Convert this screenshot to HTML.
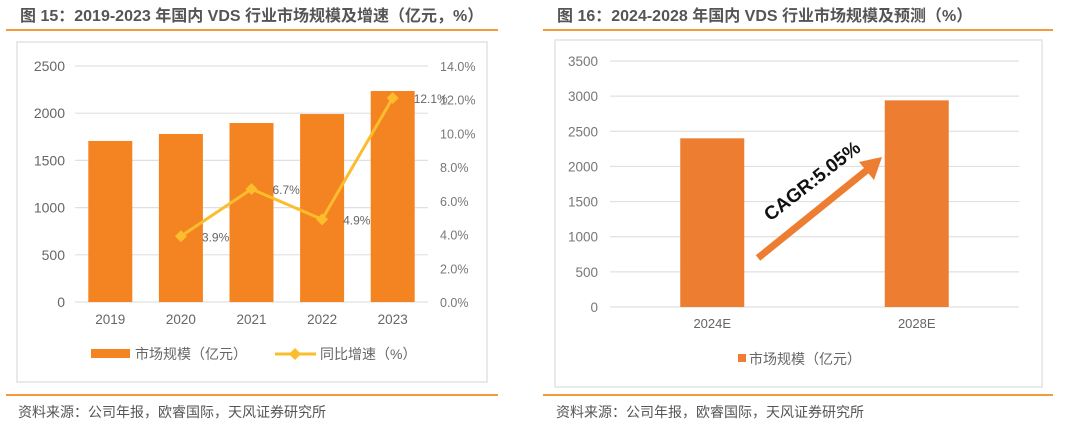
<!DOCTYPE html>
<html><head><meta charset="utf-8"><style>
body{margin:0;width:1080px;height:422px;background:#fff;overflow:hidden;font-family:"Liberation Sans","Noto Sans CJK SC",sans-serif}
svg{display:block}
</style></head><body>
<svg width="1080" height="422">
</svg>
<script>
const leftCats=["2019","2020","2021","2022","2023"];
const leftSize=[1706,1780,1896,1991,2235];
const leftGrowth=[null,3.9,6.7,4.9,12.1];
const leftGrowthLabels=["","3.9%","6.7%","4.9%","12.1%"];
const leftTicks=[0,500,1000,1500,2000,2500];
const rightTicks=["0.0%","2.0%","4.0%","6.0%","8.0%","10.0%","12.0%","14.0%"];
const r2Cats=["2024E","2028E"];
const r2Size=[2400,2940];
const r2Ticks=[0,500,1000,1500,2000,2500,3000,3500];
const NS="http://www.w3.org/2000/svg";
function mk(p,t,a,txt){const e=document.createElementNS(NS,t);for(const k in a)e.setAttribute(k,a[k]);if(txt!=null)e.textContent=txt;p.appendChild(e);return e;}
const svg=document.querySelector('svg');
const F='"Liberation Sans","Noto Sans CJK SC",sans-serif';
function panel(x0,x1,fx0,fx1,fy0,fy1,title,nm){
 let e;
 e=mk(svg,'text',{x:x0+14,y:21,'font-size':16,'font-weight':'bold',fill:'#555','font-family':F},title);
 
 e=mk(svg,'rect',{x:x0,y:29,width:x1-x0,height:2,fill:'#f39a3b'});
 
 e=mk(svg,'rect',{x:fx0,y:fy0,width:fx1-fx0,height:fy1-fy0,fill:'#fff',stroke:'#e3e3e3','stroke-width':1.5});
 
 e=mk(svg,'rect',{x:x0,y:394,width:x1-x0,height:2,fill:'#f39a3b'});
 
 e=mk(svg,'text',{x:fx0+1,y:417,'font-size':14,fill:'#555','font-family':F},'资料来源：公司年报，欧睿国际，天风证券研究所');
 
}
panel(6,498,17,487,42,382,'图 15：2019-2023 年国内 VDS 行业市场规模及增速（亿元，%）','left-chart');
panel(543,1053,555,1042,40,387,'图 16：2024-2028 年国内 VDS 行业市场规模及预测（%）','right-chart');
(function(){
 const px0=75,px1=428,y0=302,ytop=66;
 const yL=v=>y0-(v/2500)*(y0-ytop);
 const yR=v=>y0-(v/14)*(y0-ytop);
 const bw=(px1-px0)/leftCats.length;
 const xc=i=>px0+bw*(i+0.5);
 leftTicks.forEach(t=>{let e=mk(svg,'line',{x1:px0,x2:px1,y1:yL(t),y2:yL(t),stroke:'#e0e0e0','stroke-width':1.2});
  
  e=mk(svg,'text',{x:65,y:yL(t)+5,'text-anchor':'end','font-size':14,fill:'#666','font-family':F},t);
  });
 rightTicks.forEach((t,i)=>{const e=mk(svg,'text',{x:440,y:yR(i*2)+5,'font-size':12.5,fill:'#777','font-family':F},t);
  });
 leftCats.forEach((c,i)=>{let e=mk(svg,'rect',{x:xc(i)-22,y:yL(leftSize[i]),width:44,height:y0-yL(leftSize[i]),fill:'#f48421'});
  
  e=mk(svg,'text',{x:xc(i),y:324,'text-anchor':'middle','font-size':13.5,fill:'#666','font-family':F},c);
  });
 const pts=[];leftGrowth.forEach((g,i)=>{if(g!=null)pts.push([xc(i),yR(g),i]);});
 let e=mk(svg,'polyline',{points:pts.map(p=>p[0]+','+p[1]).join(' '),fill:'none',stroke:'#fbbc2d','stroke-width':3});
 
 pts.forEach(p=>{let d=mk(svg,'path',{d:`M${p[0]},${p[1]-6}l6,6l-6,6l-6,-6z`,fill:'#fbbc2d'});
  
  d=mk(svg,'text',{x:p[0]+21,y:p[1]+5,'font-size':12,fill:'#666','font-family':F},leftGrowthLabels[p[2]]);
  });
 e=mk(svg,'rect',{x:91,y:349,width:39,height:9,fill:'#f48421'});
 e=mk(svg,'text',{x:135,y:359,'font-size':14,fill:'#666','font-family':F},'市场规模（亿元）');
 e=mk(svg,'line',{x1:275,x2:316,y1:354,y2:354,stroke:'#fbbc2d','stroke-width':3});
 e=mk(svg,'path',{d:'M295,348l6,6l-6,6l-6,-6z',fill:'#fbbc2d'});
 e=mk(svg,'text',{x:320,y:359,'font-size':14,fill:'#666','font-family':F},'同比增速（%）');
})();
(function(){
 const px0=610,px1=1019,y0=307,ytop=61;
 const y=v=>y0-(v/3500)*(y0-ytop);
 const bw=(px1-px0)/r2Cats.length;const xc=i=>px0+bw*(i+0.5);
 r2Ticks.forEach(t=>{let e=mk(svg,'line',{x1:px0,x2:px1,y1:y(t),y2:y(t),stroke:'#e0e0e0','stroke-width':1.2});
  
  e=mk(svg,'text',{x:598,y:y(t)+5,'text-anchor':'end','font-size':13.5,fill:'#777','font-family':F},t);
  });
 r2Cats.forEach((c,i)=>{let e=mk(svg,'rect',{x:xc(i)-32,y:y(r2Size[i]),width:64,height:y0-y(r2Size[i]),fill:'#ed7d31'});
  
  e=mk(svg,'text',{x:xc(i),y:328,'text-anchor':'middle','font-size':13,fill:'#666','font-family':F},c);
  });
 let e=mk(svg,'line',{x1:758,y1:258,x2:872,y2:166,stroke:'#ed7d31','stroke-width':7});
 e=mk(svg,'path',{d:'M882,157L859,162L874,180Z',fill:'#ed7d31'});
 e=mk(svg,'text',{x:0,y:0,'font-size':19,'font-weight':'bold',fill:'#111','font-family':F,'text-anchor':'middle',transform:'translate(816,186) rotate(-38)'},'CAGR:5.05%');
 
 e=mk(svg,'rect',{x:738,y:354,width:8,height:8,fill:'#ed7d31'});
 e=mk(svg,'text',{x:749,y:364,'font-size':14,fill:'#666','font-family':F},'市场规模（亿元）');
})();
</script>
</body></html>
